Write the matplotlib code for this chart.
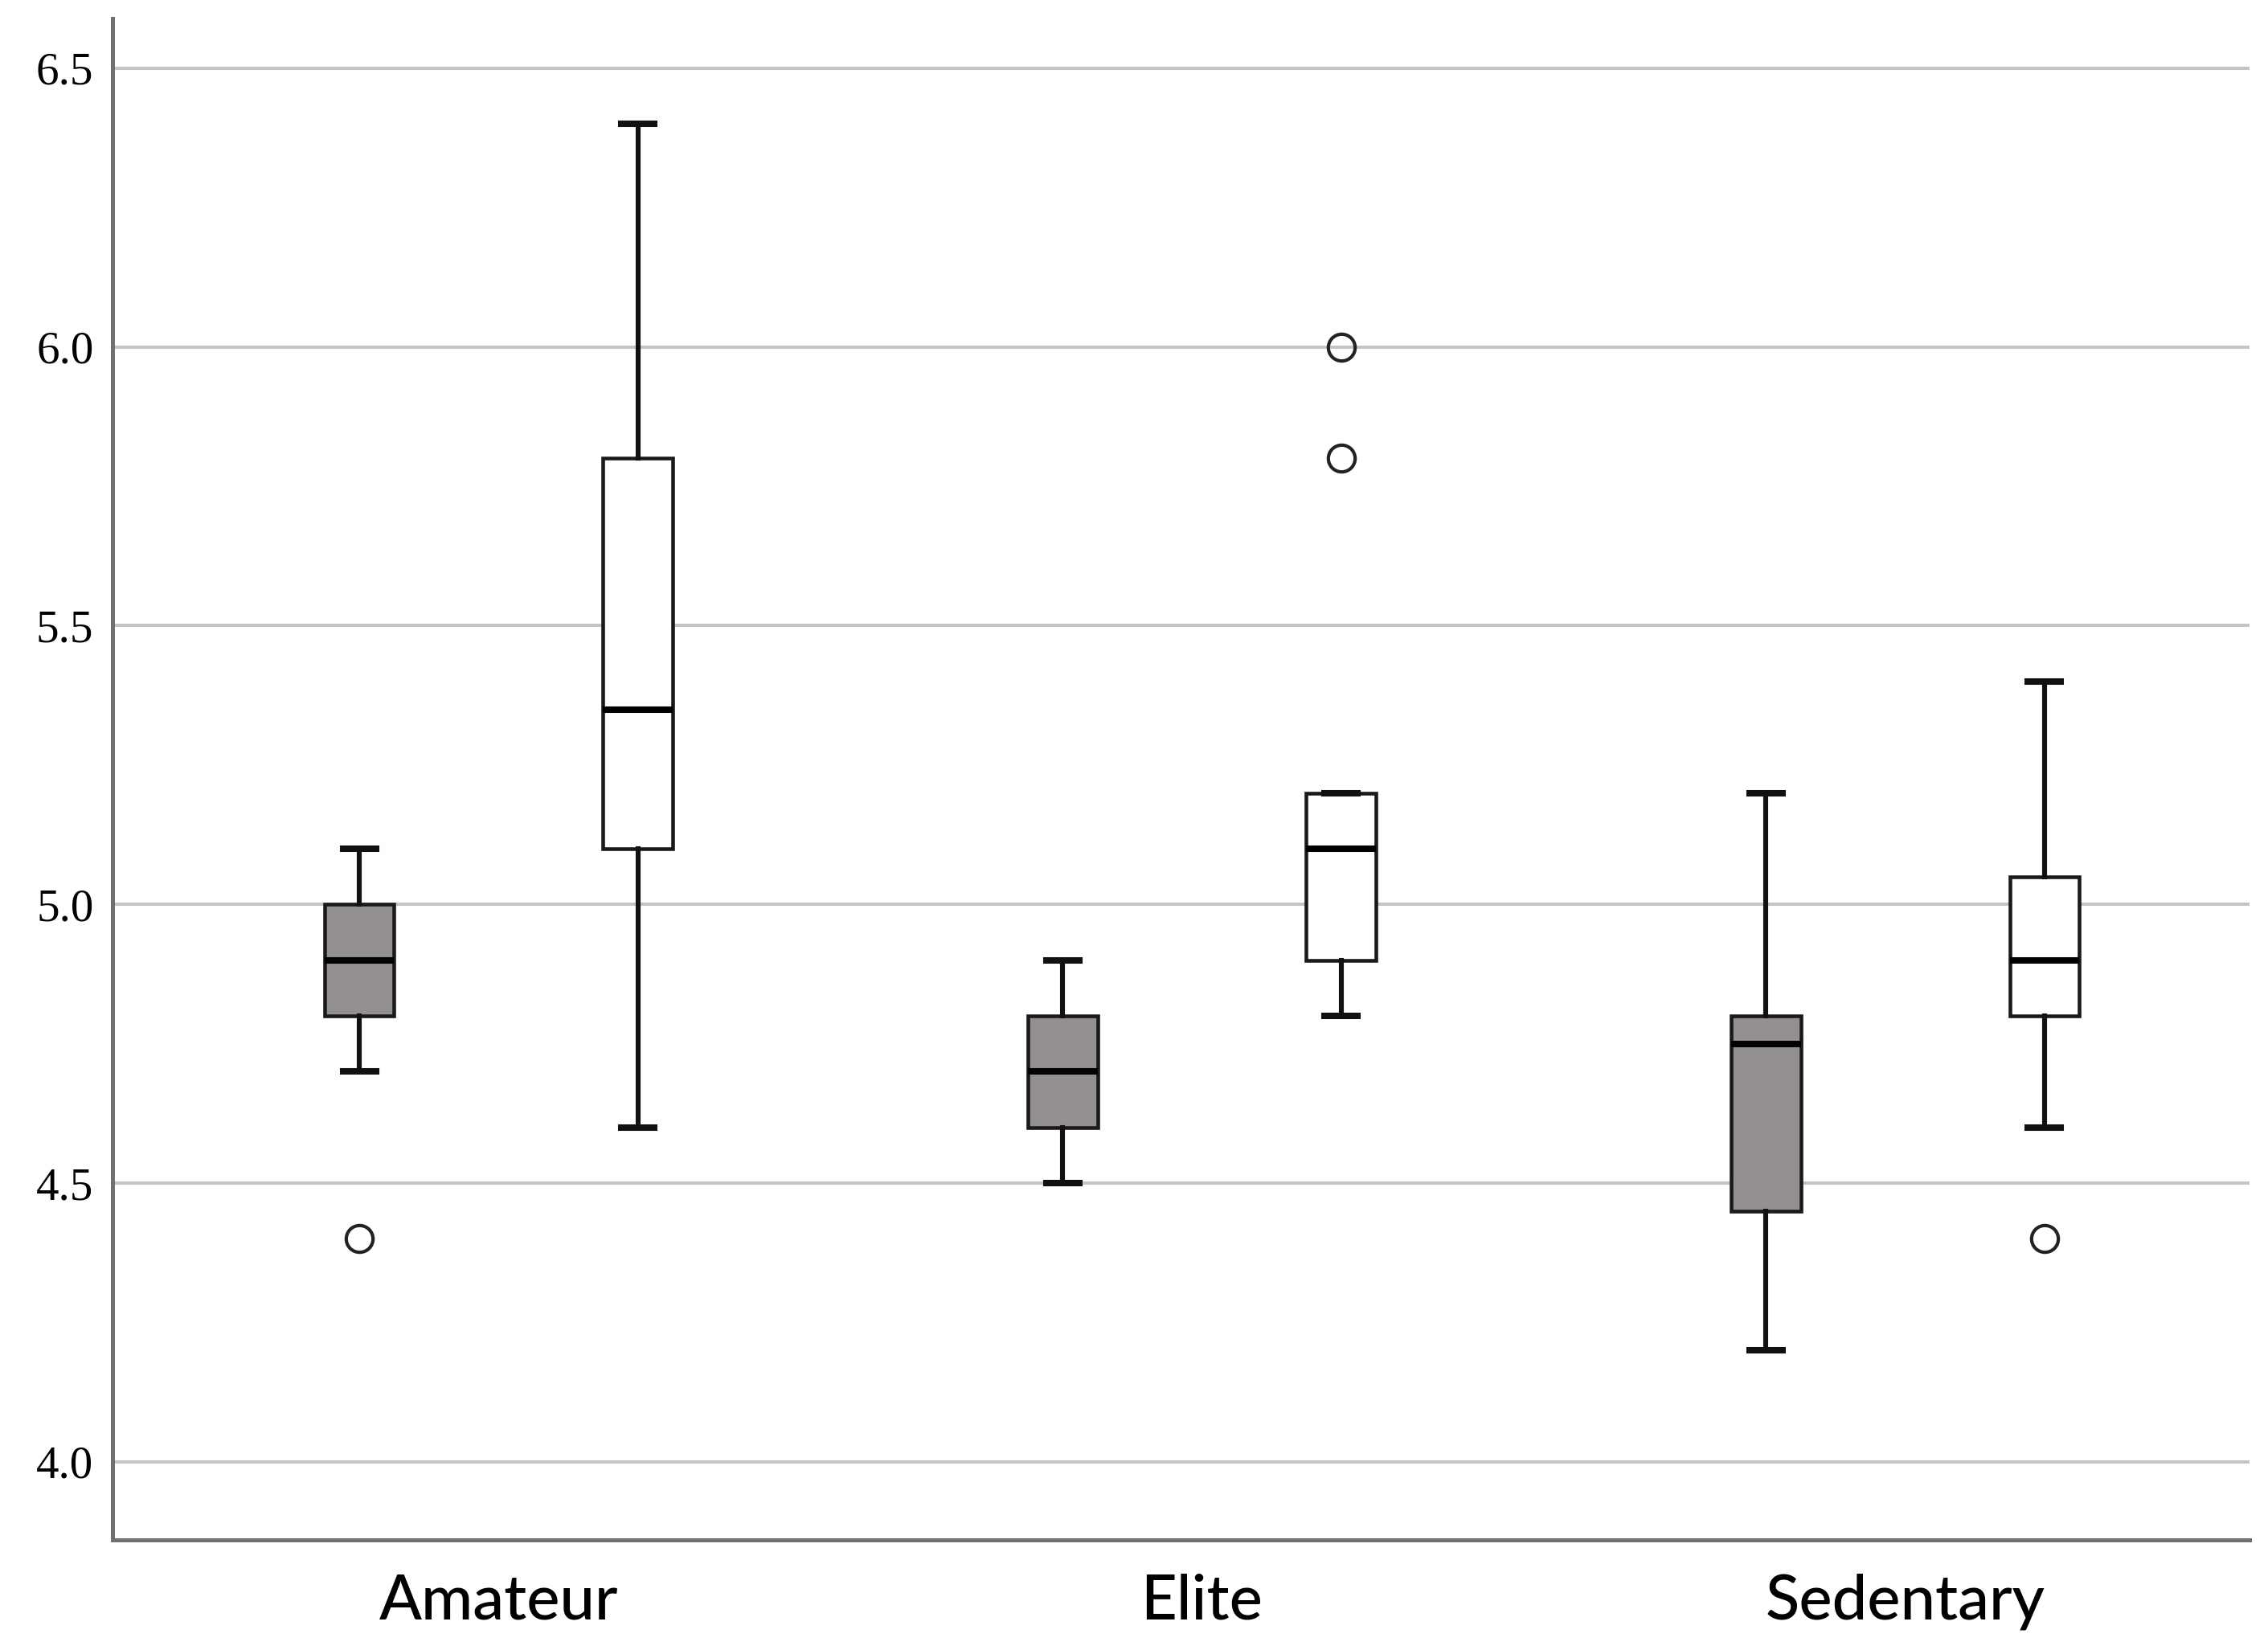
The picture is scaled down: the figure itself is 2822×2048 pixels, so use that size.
import matplotlib
matplotlib.use("Agg")
import matplotlib.pyplot as plt

categories = ["Amateur", "Elite", "Sedentary"]
# per category: [grey box, white box]
whislo = [[4.7, 4.6], [4.5, 4.8], [4.2, 4.6]]
q1     = [[4.8, 5.1], [4.6, 4.9], [4.45, 4.8]]
med    = [[4.9, 5.35], [4.7, 5.1], [4.75, 4.9]]
q3     = [[5.0, 5.8], [4.8, 5.2], [4.8, 5.05]]
whishi = [[5.1, 6.4], [4.9, 5.2], [5.2, 5.4]]
fliers = [[[4.4], []], [[], [6.0, 5.8]], [[], [4.4]]]
yticks = [4.0, 4.5, 5.0, 5.5, 6.0, 6.5]

fill_colors = ["#959090", "#ffffff"]
offsets = [-0.198, 0.198]

fig = plt.figure(figsize=(28.22, 20.48), dpi=100)
ax = fig.add_axes([0.0496, 0.0645, 0.9424, 0.9245])

ax.set_ylim(3.86, 6.59)
ax.set_xlim(-0.549, 2.49)
ax.set_yticks(yticks)
ax.set_yticklabels([f"{v:.1f}" for v in yticks], family="Liberation Serif", fontsize=41)
ax.yaxis.grid(True, color="#c4c4c4", linewidth=2.9, zorder=0)
ax.set_axisbelow(True)

for j in range(2):
    stats = []
    positions = []
    for i in range(len(categories)):
        stats.append(dict(whislo=whislo[i][j], q1=q1[i][j], med=med[i][j],
                          q3=q3[i][j], whishi=whishi[i][j], fliers=fliers[i][j]))
        positions.append(i + offsets[j])
    ax.bxp(stats, positions=positions, widths=0.099, patch_artist=True,
           showfliers=True, capwidths=0.047,
           boxprops=dict(facecolor=fill_colors[j], edgecolor="#1a1a1a", linewidth=3.3),
           whiskerprops=dict(color="#111111", linewidth=4.4),
           capprops=dict(color="#111111", linewidth=5.8),
           medianprops=dict(color="#000000", linewidth=5.8),
           flierprops=dict(marker="o", markersize=24, markerfacecolor="none",
                           markeredgecolor="#222222", markeredgewidth=3.0),
           manage_ticks=False)

ax.set_xticks(range(len(categories)))
ax.set_xticklabels(categories, family="Lato", fontweight="medium", fontsize=56)
ax.tick_params(axis="x", length=0, pad=30)
ax.tick_params(axis="y", length=0, pad=17)

for s in ["top", "right"]:
    ax.spines[s].set_visible(False)
for s in ["left", "bottom"]:
    ax.spines[s].set_color("#707070")
    ax.spines[s].set_linewidth(3.6)

fig.savefig("out.png", dpi=100, facecolor="white")
